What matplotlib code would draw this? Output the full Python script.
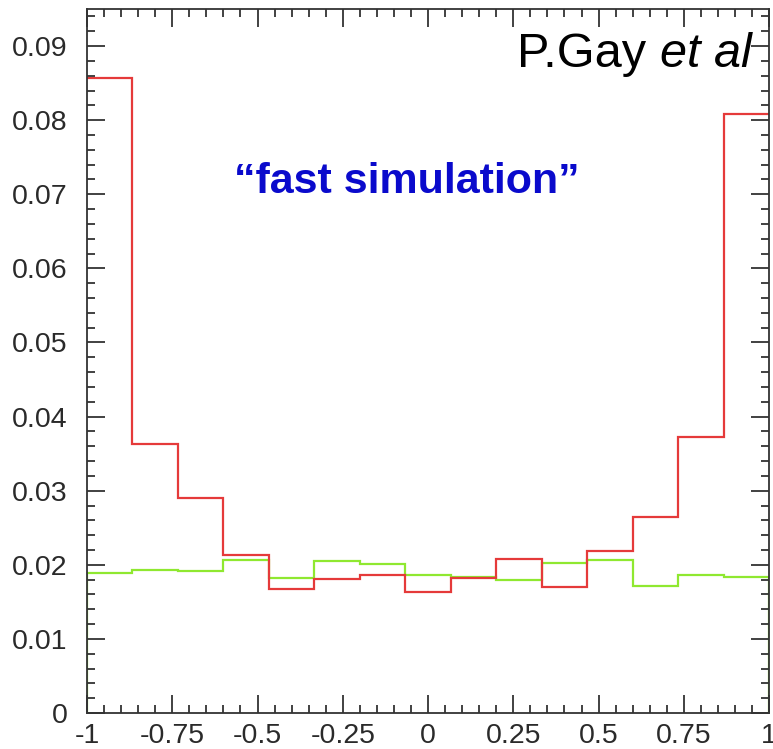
import numpy as np
import matplotlib
matplotlib.use('Agg')
import matplotlib.pyplot as plt
from matplotlib.ticker import FixedLocator, MultipleLocator

plt.rcParams['font.family'] = ['Liberation Sans', 'DejaVu Sans']

# === data: 15 bins over [-1, 1] ===
bin_edges = np.linspace(-1, 1, 16)
red_vals = [0.0857, 0.0363, 0.0290, 0.0213, 0.0167, 0.0181, 0.0186, 0.0163,
            0.0182, 0.0208, 0.0170, 0.0218, 0.0264, 0.0372, 0.0808]
green_vals = [0.0189, 0.0193, 0.0192, 0.0206, 0.0182, 0.0205, 0.0201, 0.0186,
              0.0183, 0.0179, 0.0202, 0.0206, 0.0172, 0.0186, 0.0184]

xticks = [-1, -0.75, -0.5, -0.25, 0, 0.25, 0.5, 0.75, 1]
xtick_labels = ['-1', '-0.75', '-0.5', '-0.25', '0', '0.25', '0.5', '0.75', '1']
yticks = [0, 0.01, 0.02, 0.03, 0.04, 0.05, 0.06, 0.07, 0.08, 0.09]
ytick_labels = ['0', '0.01', '0.02', '0.03', '0.04', '0.05', '0.06', '0.07', '0.08', '0.09']

# === plot ===
fig = plt.figure(figsize=(7.73, 7.49), dpi=100)
ax = fig.add_axes([0.1125, 0.048, 0.8825, 0.940])

ax.stairs(green_vals, bin_edges, baseline=0, color='#8fe830', linewidth=1.6)
ax.stairs(red_vals, bin_edges, baseline=None, color='#e53a3a', linewidth=1.6)

ax.set_xlim(-1, 1)
ax.set_ylim(0, 0.095)

ax.xaxis.set_major_locator(FixedLocator(xticks))
ax.set_xticklabels(xtick_labels)
ax.yaxis.set_major_locator(FixedLocator(yticks))
ax.set_yticklabels(ytick_labels)
ax.xaxis.set_minor_locator(MultipleLocator(0.05))
ax.yaxis.set_minor_locator(MultipleLocator(0.002))

ax.tick_params(which='both', direction='in', top=True, right=True,
               color='#333333', width=1.3, labelsize=20.5, labelcolor='#2a2a2a')
ax.tick_params(which='major', length=13)
ax.tick_params(which='minor', length=6)
ax.tick_params(axis='x', pad=7)
ax.tick_params(axis='y', pad=14)
ax.tick_params(top=True, right=True, labeltop=False, labelright=False)

for s in ax.spines.values():
    s.set_color('#333333')
    s.set_linewidth(1.3)

ax.text(0.469, 0.739, '\u201cfast simulation\u201d', transform=ax.transAxes,
        ha='center', va='baseline', fontsize=31, fontweight='bold', color='#0a0acc')
ax.text(0.840, 0.918, 'P.Gay ', transform=ax.transAxes,
        ha='right', va='baseline', fontsize=35, color='black')
ax.text(0.840, 0.918, 'et al', transform=ax.transAxes,
        ha='left', va='baseline', fontsize=35, style='italic', color='black')

fig.savefig('out.png', dpi=100)
